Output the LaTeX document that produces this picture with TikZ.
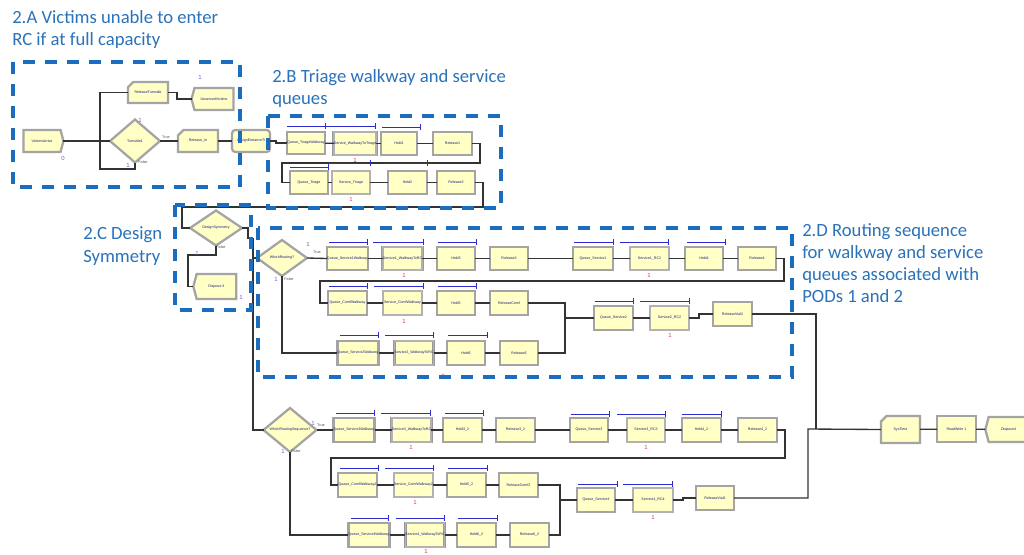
\documentclass[tikz,border=0pt]{standalone}
\usepackage{fontspec}
\newfontfamily\calfont{Carlito}
\newfontfamily\modfont{Liberation Sans}
\usetikzlibrary{shapes.geometric,shapes.misc,shapes.symbols}

\definecolor{modfill}{HTML}{FFFFC6}
\definecolor{modedge}{HTML}{A4A4A4}
\definecolor{frameblue}{HTML}{1C6DBE}
\definecolor{labelblue}{HTML}{2A72BA}
\definecolor{qblue}{HTML}{2B2BD0}
\definecolor{modtext}{HTML}{1A1A7A}
\definecolor{cntpurple}{HTML}{7A5CC8}
\definecolor{cntred}{HTML}{D0405A}

\tikzset{
  module/.style={fill=modfill, draw=modedge, line width=1.7pt, inner sep=0pt, outer sep=0pt,
    font=\modfont\fontsize{2.7}{3.1}\selectfont, text=modtext},
  procbox/.style={module, rectangle},
  servbox/.style={module, rectangle, draw=black!40, line width=0.5pt, double=modedge!85, double distance=1.2pt},
  createbox/.style={module, signal, signal to=east, signal pointer angle=150},
  disposebox/.style={module, signal, signal to=west, signal pointer angle=150},
  assignbox/.style={module, chamfered rectangle, chamfered rectangle corners=north west},
  stationbox/.style={module, rectangle, rounded corners=2.5pt},
  decidebox/.style={module, diamond},
  conn/.style={draw=black!80, line width=1pt},
  qbarline/.style={draw=qblue, line width=0.75pt},
  frame/.style={draw=frameblue, line width=2.8pt, dash pattern=on 9pt off 7.5pt},
  note/.style={font=\calfont\fontsize{14}{16.5}\selectfont, text=labelblue, inner sep=0pt, anchor=base west},
  cnt/.style={font=\modfont\fontsize{4.5}{5}\selectfont, text=cntpurple, inner sep=0pt},
  cntr/.style={cnt, text=cntred},
  branch/.style={font=\modfont\fontsize{2.8}{3}\selectfont, text=black!70, inner sep=0pt},
}

% module from its corners: style, name, x1, y1, x2, y2, text
\newcommand\modat[7]{\node[#1, minimum width={(#5-#3)*0.75pt}, minimum height={(#6-#4)*0.75pt}]
  (#2) at ({(#3+#5)/2},{(#4+#6)/2}) {#7};}
% decide diamond: name, cx, cy, w, h, text
\newcommand\decat[6]{\node[decidebox, minimum width={#4*0.75pt}, minimum height={#5*0.75pt}]
  (#1) at (#2,#3) {#6};}
% queue bar above a module: x1, x2, y
\newcommand\qbar[3]{\draw[qbarline] (#1,#3) -- (#2,#3) (#2,{#3-3}) -- (#2,{#3+3});}

\begin{document}
\begin{tikzpicture}[x=0.75pt, y=-0.75pt]
\fill[white] (0,0) rectangle (1024,554);
\useasboundingbox (0,0) rectangle (1024,554);

% ---------- 2.A arrivals and turnstile ----------
\modat{createbox}{va}{22}{130}{62}{152}{VictimsArrive}
\modat{assignbox}{rt}{128}{82}{168}{103}{ReleaseTurnstile}
\modat{disposebox}{uv}{193}{88}{235}{110}{UnservedVictims}
\decat{t1}{135}{141}{50}{43}{Turnstile1}
\modat{assignbox}{ri}{178}{130}{218}{152}{Release\_In}
\modat{stationbox}{ae}{232}{130}{270}{152}{AssignEntranceTi}

% ---------- 2.B triage walkway and service ----------
\modat{procbox}{qtw}{287}{132}{325}{154}{Queue\_TriageWalkway}
\modat{servbox}{swt}{335}{132}{375}{155}{Service\_WalkwayToTriage}
\modat{procbox}{h1}{381}{132}{417}{155}{Hold1}
\modat{procbox}{r1}{433}{132}{472}{155}{Release1}
\modat{procbox}{qt}{290}{171}{328}{194}{Queue\_Triage}
\modat{servbox}{st}{332}{171}{370}{194}{Service\_Triage}
\modat{procbox}{h2}{388}{171}{427}{194}{Hold2}
\modat{procbox}{r2}{437}{171}{475}{194}{Release2}

% ---------- 2.C design symmetry ----------
\decat{ds}{216}{228}{52}{35}{DesignSymmetry}
\modat{disposebox}{d3}{195}{274}{238}{299}{Dispose 3}

% ---------- 2.D routing, PODs 1 and 2 ----------
\decat{wr}{282}{258}{50}{36}{WhichRouting?}
\modat{procbox}{qa1}{328}{247}{367}{270}{Queue\_Service1Walkway}
\modat{servbox}{sa1}{383}{247}{422}{270}{Service1\_WalkwayToRC}
\modat{procbox}{h3}{437}{247}{475}{270}{Hold3}
\modat{procbox}{r3}{490}{247}{528}{270}{Release3}
\modat{procbox}{qs1}{573}{247}{613}{270}{Queue\_Service1}
\modat{servbox}{ss1}{630}{247}{669}{270}{Service1\_RC1}
\modat{procbox}{h4}{685}{247}{723}{270}{Hold4}
\modat{procbox}{r4}{738}{247}{776}{270}{Release4}

\modat{procbox}{qc1}{328}{291}{367}{315}{Queue\_ComfWalkway}
\modat{servbox}{sc1}{383}{291}{422}{315}{Service\_ComfWalkway}
\modat{procbox}{h5}{437}{291}{475}{315}{Hold5}
\modat{procbox}{rc1}{490}{291}{528}{315}{ReleaseComf}
\modat{procbox}{qs2}{594}{306}{633}{330}{Queue\_Service2}
\modat{servbox}{ss2}{650}{306}{689}{330}{Service2\_RC2}
\modat{procbox}{rv2}{713}{302}{752}{326}{ReleaseVial2}

\modat{procbox}{qb1}{338}{341}{378}{365}{Queue\_Service2Walkway}
\modat{servbox}{sb1}{395}{341}{433}{365}{Service2\_WalkwayToRC}
\modat{procbox}{h6}{447}{341}{485}{365}{Hold6}
\modat{procbox}{r6}{500}{341}{538}{365}{Release6}

% ---------- routing sequence, PODs 3 and 4 ----------
\decat{wrs}{290}{430}{53}{34}{WhichRoutingSequence?}
\modat{procbox}{qa2}{335}{418}{373}{442}{Queue\_Service3Walkway}
\modat{servbox}{sa2}{392}{418}{431}{442}{Service3\_WalkwayToRC}
\modat{procbox}{h32}{443}{418}{482}{442}{Hold3\_2}
\modat{procbox}{r32}{496}{418}{535}{442}{Release3\_2}
\modat{procbox}{qs3}{570}{418}{608}{442}{Queue\_Service3}
\modat{servbox}{ss3}{627}{418}{665}{442}{Service3\_RC3}
\modat{procbox}{h42}{682}{418}{721}{442}{Hold4\_2}
\modat{procbox}{r42}{738}{418}{777}{442}{Release4\_2}

\modat{procbox}{qc2}{338}{473}{377}{497}{Queue\_ComfWalkway2}
\modat{servbox}{sc2}{394}{473}{433}{497}{Service\_ComfWalkway2}
\modat{procbox}{h52}{447}{473}{486}{497}{Hold5\_2}
\modat{procbox}{rc2}{499}{473}{538}{497}{ReleaseComf2}
\modat{procbox}{qs4}{577}{488}{615}{512}{Queue\_Service4}
\modat{servbox}{ss4}{633}{488}{673}{512}{Service4\_RC4}
\modat{procbox}{rv1}{696}{486}{734}{510}{ReleaseVial1}

\modat{procbox}{qb2}{350}{523}{388}{547}{Queue\_Service4Walkway}
\modat{servbox}{sb2}{406}{523}{444}{547}{Service4\_WalkwayToRC}
\modat{procbox}{h62}{457}{523}{496}{547}{Hold6\_2}
\modat{procbox}{r62}{510}{523}{549}{547}{Release6\_2}

% ---------- exit ----------
\modat{assignbox}{sys}{881}{416}{920}{443}{SysTime}
\modat{procbox}{rw}{937}{416}{976}{442}{ReadWrite 1}
\modat{disposebox}{dp}{987}{417}{1030}{442}{Dispose4}

% ---------- connectors ----------
\coordinate (jA) at (100,169);
\coordinate (trunkTop) at (253,238);
\coordinate (jD) at (253,258);
\coordinate (jP) at (565,318);
\coordinate (jQ) at (560,500);
\coordinate (jX) at (808,429);

\draw[conn] (va.east) -- (t1.west);
\draw[conn] (rt.west) -| (jA) -| (t1.south);
\draw[conn] (rt.east) -- ++(9,0) |- (uv.west);
\draw[conn] (t1.east) -- (ri.west);
\draw[conn] (ri.east) -- (ae.west);
\draw[conn] (ae.east) -- ++(6,0) |- (qtw.west);

\draw[conn] (qtw) -- (swt);
\draw[conn] (swt) -- (h1);
\draw[conn] (h1) -- (r1);
\draw[conn] (r1.east) -| (480,163) -| (282,182.5) -- (qt.west);
\draw[conn] (qt) -- (st);
\draw[conn] (st) -- (h2);
\draw[conn] (h2) -- (r2);
\draw[conn] (r2.east) -| (483,207) -| (182,228) -- (ds.west);

\draw[conn] (ds.south) -- (216,255) -| (188,286.5) -- (d3.west);
\draw[conn] (ds.east) -| (248,238) -- (trunkTop);
\draw[conn] (trunkTop) |- (wrs.west);
\draw[conn] (jD) -- (wr.west);

\draw[conn] (wr.east) -- (qa1.west);
\draw[conn] (qa1) -- (sa1);
\draw[conn] (sa1) -- (h3);
\draw[conn] (h3) -- (r3);
\draw[conn] (r3) -- (qs1);
\draw[conn] (qs1) -- (ss1);
\draw[conn] (ss1) -- (h4);
\draw[conn] (h4) -- (r4);
\draw[conn] (r4.east) -| (784,281) -| (320,303) -- (qc1.west);
\draw[conn] (qc1) -- (sc1);
\draw[conn] (sc1) -- (h5);
\draw[conn] (h5) -- (rc1);
\draw[conn] (rc1.east) -| (jP) -- (qs2.west);
\draw[conn] (qs2) -- (ss2);
\draw[conn] (ss2.east) -- ++(10,0) |- (rv2.west);
\draw[conn] (rv2.east) -| (816,429);

\draw[conn] (wr.south) |- (qb1.west);
\draw[conn] (qb1) -- (sb1);
\draw[conn] (sb1) -- (h6);
\draw[conn] (h6) -- (r6);
\draw[conn] (r6.east) -| (jP);

\draw[conn] (wrs.east) -- (qa2.west);
\draw[conn] (qa2) -- (sa2);
\draw[conn] (sa2) -- (h32);
\draw[conn] (h32) -- (r32);
\draw[conn] (r32) -- (qs3);
\draw[conn] (qs3) -- (ss3);
\draw[conn] (ss3) -- (h42);
\draw[conn] (h42) -- (r42);
\draw[conn] (r42.east) -| (785,458) -| (331,485) -- (qc2.west);
\draw[conn] (qc2) -- (sc2);
\draw[conn] (sc2) -- (h52);
\draw[conn] (h52) -- (rc2);
\draw[conn] (rc2.east) -| (jQ) -- (qs4.west);
\draw[conn] (qs4) -- (ss4);
\draw[conn] (ss4.east) -- ++(10,0) |- (rv1.west);
\draw[conn] (wrs.south) |- (qb2.west);
\draw[conn] (qb2) -- (sb2);
\draw[conn] (sb2) -- (h62);
\draw[conn] (h62) -- (r62);
\draw[conn] (r62.east) -| (jQ);

\draw[conn] (rv1.east) -| (jX) -- (sys.west);
\draw[conn] (sys) -- (rw);
\draw[conn] (rw) -- (dp);

% ---------- queue bars ----------
\qbar{287}{325}{126}\qbar{325}{375}{126}\qbar{382}{420}{127}
\qbar{290}{328}{167}\qbar{328}{370}{163}\qbar{385}{427}{163}
\qbar{329}{367}{242}\qbar{373}{423}{242}\qbar{438}{476}{242}
\qbar{574}{613}{242}\qbar{620}{668}{242}\qbar{687}{725}{242}
\qbar{329}{367}{286}\qbar{374}{423}{286}\qbar{438}{476}{286}
\qbar{595}{633}{301}\qbar{640}{689}{301}
\qbar{340}{378}{335}\qbar{385}{433}{335}\qbar{448}{487}{335}
\qbar{336}{374}{413}\qbar{381}{430}{413}\qbar{445}{483}{413}
\qbar{571}{609}{414}\qbar{617}{665}{414}\qbar{682}{721}{414}
\qbar{340}{378}{468}\qbar{385}{433}{468}\qbar{448}{487}{468}
\qbar{578}{617}{484}\qbar{623}{672}{484}
\qbar{351}{388}{518}\qbar{396}{444}{518}\qbar{458}{497}{518}

% ---------- counters and branch tags ----------
\node[cnt] (n01) at (63,158) {0};
\node[cnt] (n02) at (200,77) {1};
\node[cnt] (n03) at (140,120) {1};
\node[cnt] (n04) at (128,165) {1};
\node[branch] (b01) at (166,137) {True};
\node[branch] (b02) at (143,162) {False};
\node[branch] (b03) at (221,247) {False};
\node[cnt] (n05) at (197,253) {1};
\node[cnt] (n06) at (241,297) {1};
\node[cnt] (n07) at (308,244) {1};
\node[branch] (b04) at (317,252) {True};
\node[cnt] (n08) at (276,279) {1};
\node[branch] (b05) at (289,279) {False};
\node[cnt] (n09) at (313,423) {1};
\node[branch] (b06) at (321,425) {True};
\node[cnt] (n10) at (283,451) {1};
\node[branch] (b07) at (296,451) {False};
\node[cntr] (r01) at (355,160) {1};
\node[cntr] (r02) at (351,199) {1};
\node[cntr] (r03) at (404,275) {1};
\node[cntr] (r04) at (404,321) {1};
\node[cntr] (r05) at (649,275) {1};
\node[cntr] (r06) at (670,335) {1};
\node[cntr] (r07) at (443,376) {0};
\node[cntr] (r08) at (411,447) {1};
\node[cntr] (r09) at (415,502) {1};
\node[cntr] (r10) at (426,551) {1};
\node[cntr] (r11) at (646,447) {1};
\node[cntr] (r12) at (653,517) {1};

% ---------- dashed section frames ----------
\draw[frame] (13,62) rectangle (240,187);
\draw[frame] (268,116) rectangle (501,208);
\draw[frame] (175,205) rectangle (251,310);
\draw[frame] (258,228) rectangle (792,377);

% ---------- section notes ----------
\node[note] (na1) at (12,23) {2.A Victims unable to enter};
\node[note] (na2) at (12,45) {RC if at full capacity};
\node[note] (nb1) at (272,82) {2.B Triage walkway and service};
\node[note] (nb2) at (272,104) {queues};
\node[note] (nc1) at (83,239) {2.C Design};
\node[note] (nc2) at (83,262) {Symmetry};
\node[note] (nd1) at (802,236) {2.D Routing sequence};
\node[note] (nd2) at (802,258) {for walkway and service};
\node[note] (nd3) at (802,280) {queues associated with};
\node[note] (nd4) at (802,302) {PODs 1 and 2};
\end{tikzpicture}
\end{document}
